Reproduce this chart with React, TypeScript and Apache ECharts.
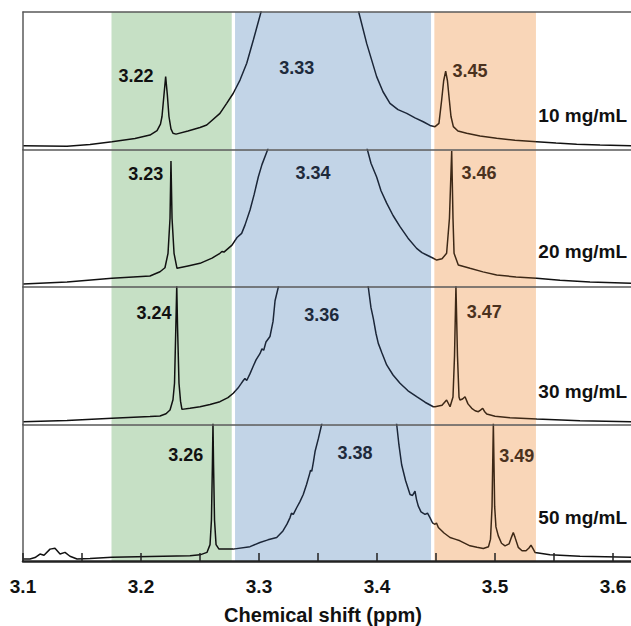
import React, { useEffect, useRef } from "react";
import * as echarts from "echarts";

// ---------- data (ppm, intensity as % of panel height) ----------
const concentrations = ["10 mg/mL", "20 mg/mL", "30 mg/mL", "50 mg/mL"];

const p1Ppm = [3.1, 3.1186, 3.1373, 3.1568, 3.1754, 3.1949, 3.2076, 3.2136, 3.2165, 3.2178, 3.2195, 3.2209, 3.2223, 3.2237, 3.2254, 3.2271, 3.2297, 3.2398, 3.25, 3.2557, 3.2669, 3.2726, 3.2782, 3.2839, 3.2896, 3.2952, 3.3017, 3.3076, 3.3432, 3.3788, 3.3845, 3.3913, 3.3997, 3.4051, 3.411, 3.4178, 3.4252, 3.4322, 3.4392, 3.4449, 3.4492, 3.4525, 3.4548, 3.4565, 3.4582, 3.4597, 3.4613, 3.4627, 3.4647, 3.4686, 3.476, 3.4873, 3.5014, 3.5169, 3.5353, 3.5517, 3.5692, 3.589, 3.6153];
const p1Int = [2.8, 2.6, 2.4, 3.6, 5.7, 8.0, 10.5, 13.7, 18.5, 24, 40, 53, 40, 24, 15, 11.8, 11.2, 13.5, 16, 17.8, 26.3, 33.6, 40.9, 50.5, 62.7, 79.6, 100, 130, 400, 130, 100, 77, 53, 42, 33.6, 29, 26.3, 23, 20.2, 17.5, 16.6, 19, 36, 50, 57, 50, 36, 24, 16.6, 13.5, 11.8, 9.8, 8.1, 6.8, 5.7, 4.7, 3.8, 3.2, 2.8];

const p2Ppm = [3.1, 3.1373, 3.1754, 3.2076, 3.2161, 3.2203, 3.2229, 3.2246, 3.2254, 3.2263, 3.228, 3.2305, 3.2398, 3.25, 3.2602, 3.2669, 3.2686, 3.2703, 3.2771, 3.2814, 3.2853, 3.2881, 3.2924, 3.2958, 3.2994, 3.3025, 3.3074, 3.311, 3.3496, 3.3873, 3.3918, 3.3949, 3.3997, 3.4034, 3.4082, 3.4136, 3.4195, 3.4263, 3.4336, 3.4381, 3.4421, 3.4477, 3.4506, 3.4551, 3.459, 3.4614, 3.4633, 3.4644, 3.4653, 3.4689, 3.4788, 3.4898, 3.5014, 3.5178, 3.5353, 3.5551, 3.5805, 3.6153];
const p2Int = [2.2, 3.6, 6.3, 8, 11.1, 14, 24.5, 50, 91.6, 50, 24.5, 13.6, 15.3, 17.2, 21, 24.5, 25.8, 25.4, 30.5, 36, 39, 45, 56, 67, 80, 89, 100, 120, 400, 120, 100, 90, 80, 70, 61, 52, 43.9, 35.5, 28.1, 25, 23.3, 20.9, 19.6, 20.5, 24.5, 50, 98.9, 50, 24.5, 16, 13.6, 11, 8.7, 7.3, 6.3, 4.9, 3.6, 2.7];

const p3Ppm = [3.1, 3.1373, 3.1754, 3.2076, 3.2161, 3.2212, 3.2246, 3.2271, 3.2284, 3.2295, 3.2303, 3.231, 3.2322, 3.2335, 3.2347, 3.2415, 3.25, 3.2585, 3.2669, 3.2737, 3.2782, 3.2822, 3.2847, 3.2867, 3.2881, 3.2896, 3.2924, 3.2949, 3.2975, 3.3008, 3.3025, 3.304, 3.3059, 3.3093, 3.3119, 3.3136, 3.3164, 3.3195, 3.3545, 3.389, 3.3926, 3.3949, 3.3969, 3.3992, 3.4011, 3.4042, 3.4082, 3.4136, 3.4195, 3.4263, 3.4336, 3.4407, 3.4477, 3.4492, 3.4551, 3.459, 3.4619, 3.4644, 3.4657, 3.4669, 3.4682, 3.4695, 3.4703, 3.4725, 3.4746, 3.4771, 3.4803, 3.4831, 3.4859, 3.4877, 3.4896, 3.4911, 3.493, 3.5, 3.5127, 3.5353, 3.572, 3.6153];
const p3Int = [2.0, 2.9, 4.5, 5.8, 6.2, 7.8, 10.5, 18, 30, 70, 101, 70, 30, 17, 11, 11.8, 12.9, 14.5, 16.6, 19.5, 22.7, 26.5, 29.5, 32, 33.5, 32, 37, 42, 47, 51.5, 55, 54, 60, 64, 75, 90, 100, 120, 400, 120, 100, 85, 77, 66, 59, 52, 43.3, 36, 30, 24.5, 20.2, 16.2, 12.9, 12.9, 14, 17.8, 12.9, 20, 50, 101, 50, 20, 17.8, 18.5, 20.2, 15, 11.8, 10, 9.3, 10.5, 11.8, 9.5, 7.6, 6, 4.9, 4.0, 2.8, 2.0];

const p4Ppm = [3.1, 3.1059, 3.1102, 3.1144, 3.1178, 3.1229, 3.1271, 3.1314, 3.1356, 3.1398, 3.1458, 3.1568, 3.1754, 3.2076, 3.2415, 3.25, 3.2559, 3.2585, 3.2597, 3.2605, 3.261, 3.2615, 3.2623, 3.2636, 3.2661, 3.278, 3.2924, 3.3008, 3.3076, 3.315, 3.3203, 3.3237, 3.3263, 3.3275, 3.3291, 3.3319, 3.3347, 3.3375, 3.3403, 3.3427, 3.3437, 3.3447, 3.3462, 3.3475, 3.3504, 3.3531, 3.3568, 3.3849, 3.4127, 3.4167, 3.4186, 3.4209, 3.4242, 3.428, 3.4301, 3.4322, 3.4335, 3.435, 3.4373, 3.4407, 3.4428, 3.4449, 3.447, 3.4492, 3.4504, 3.452, 3.4568, 3.4619, 3.4661, 3.4703, 3.4788, 3.4847, 3.4901, 3.4945, 3.4962, 3.4975, 3.4986, 3.4997, 3.5008, 3.5028, 3.5055, 3.5085, 3.5119, 3.514, 3.5155, 3.5169, 3.5197, 3.5229, 3.5263, 3.5288, 3.5305, 3.5322, 3.5339, 3.5466, 3.572, 3.6153];
const p4Int = [1.5, 1.5, 2.5, 5.1, 4.2, 8.7, 9.3, 5.1, 6.3, 3.5, 1.5, 1.8, 2.7, 3.3, 3.9, 4.5, 6.3, 12, 30, 70, 101, 70, 30, 12, 8.7, 8.7, 10.5, 13.6, 15.5, 17.2, 22, 27, 31.8, 35, 34.2, 39, 43.5, 48.7, 56, 63.3, 66.5, 65.7, 73, 80.2, 90, 100, 120, 400, 120, 100, 85, 70.5, 59, 48.7, 48, 51.1, 45, 40.2, 36, 34.2, 35, 31.8, 28, 26.9, 27.8, 24.5, 20.5, 17.2, 16, 14.8, 11.1, 10, 9.2, 10.5, 16, 40, 101, 40, 25, 18.4, 13, 11.1, 12.5, 17.5, 20.9, 17.5, 10, 7.5, 7.5, 9.5, 11.6, 9, 6.3, 4.6, 3.5, 2.7];

const spectraPpm = [p1Ppm, p2Ppm, p3Ppm, p4Ppm];
const spectraInt = [p1Int, p2Int, p3Int, p4Int];

// shaded chemical-shift windows (ppm)
const bandStart = [3.175, 3.2797, 3.4486];
const bandEnd = [3.2769, 3.4458, 3.5347];
const bandColor = ["#c6e0c5", "#c2d4e7", "#f9d6b8"];

// peak labels: [text, ppm, intensity] per panel, group 0=green, 1=blue, 2=orange
const peakLabels = [
  [["3.22", 3.1958, 53.5], ["3.33", 3.3319, 59.3], ["3.45", 3.4788, 57.1]],
  [["3.23", 3.204, 82.2], ["3.34", 3.3458, 82.9], ["3.46", 3.4864, 82.7]],
  [["3.24", 3.211, 81.1], ["3.36", 3.3531, 79.6], ["3.47", 3.4909, 82.0]],
  [["3.26", 3.2379, 77.3], ["3.38", 3.3814, 79.3], ["3.49", 3.5184, 76.6]],
];
const labelColor = ["#111111", "#1e2a3b", "#4b321e"];
const concLabelPpm = 3.5743;
const concLabelInt = [24.4, 25.7, 23.9, 31.8];

const xMin = 3.1;
const xMax = 3.1 + 608 / 1180;

const FONT = "'Liberation Sans', Arial, sans-serif";

export default function App() {
  const ref = useRef<HTMLDivElement>(null);
  useEffect(() => {
    if (!ref.current) return;
    const chart = echarts.init(ref.current, undefined, { renderer: "svg" });
    const panelTop = [12, 149.5, 287, 424.5];
    const panelH = 137.5;

    const grids = panelTop.map((t) => ({
      left: 23,
      right: 0,
      top: t,
      height: panelH,
      show: false,
    }));

    const xAxes: any[] = panelTop.map((_, i) => ({
      type: "value",
      gridIndex: i,
      position: "top",
      min: xMin,
      max: xMax,
      z: 5,
      axisLine: { show: true, onZero: false, lineStyle: { color: "#5a5a5a", width: 1.5 } },
      axisTick: { show: false },
      axisLabel: { show: false },
      splitLine: { show: false },
    }));
    xAxes.push({
      type: "value",
      gridIndex: 3,
      position: "bottom",
      min: xMin,
      max: xMax,
      interval: 0.05,
      z: 5,
      axisLine: { show: true, onZero: false, lineStyle: { color: "#222", width: 2.5 } },
      axisTick: { show: true, inside: true, length: 8, lineStyle: { color: "#222", width: 1.5 } },
      axisLabel: {
        show: true,
        margin: 16,
        fontFamily: FONT,
        fontWeight: "bold",
        fontSize: 19,
        color: "#111",
        showMaxLabel: false,
        formatter: (v: number) => {
          const t = Math.round(v * 100);
          return t % 10 === 0 ? v.toFixed(1) : "";
        },
      },
      splitLine: { show: false },
      name: "Chemical shift (ppm)",
      nameLocation: "middle",
      nameGap: 44,
      nameTextStyle: {
        fontFamily: FONT,
        fontWeight: "bold",
        fontSize: 20,
        color: "#111",
        padding: [0, 8, 0, 0],
      },
    });

    const yAxes = panelTop.map((_, i) => ({
      type: "value",
      gridIndex: i,
      min: 0,
      max: 100,
      z: 5,
      axisLine: { show: true, onZero: false, lineStyle: { color: "#5a5a5a", width: 1.5 } },
      axisTick: { show: false },
      axisLabel: { show: false },
      splitLine: { show: false },
    }));

    const series = spectraPpm.map((ppm, i) => ({
      type: "line",
      xAxisIndex: i,
      yAxisIndex: i,
      data: ppm.map((p, k) => [p, spectraInt[i][k]]),
      showSymbol: false,
      symbol: "none",
      clip: true,
      lineStyle: { width: 1.5 },
      z: 2,
      markArea: {
        silent: true,
        data: bandStart.map((s, b) => [
          { xAxis: s, itemStyle: { color: bandColor[b], opacity: 1 } },
          { xAxis: bandEnd[b] },
        ]),
      },
      markPoint: {
        silent: true,
        symbol: "circle",
        symbolSize: 1,
        itemStyle: { color: "rgba(0,0,0,0)" },
        data: [
          ...peakLabels[i].map((l: any, g: number) => ({
            name: l[0],
            coord: [l[1], l[2]],
            label: {
              show: true,
              position: "inside",
              formatter: l[0],
              fontFamily: FONT,
              fontWeight: "bold",
              fontSize: 18,
              color: labelColor[g],
            },
          })),
          {
            name: concentrations[i],
            coord: [concLabelPpm, concLabelInt[i]],
            label: {
              show: true,
              position: "inside",
              formatter: concentrations[i],
              fontFamily: FONT,
              fontWeight: "bold",
              fontSize: 19,
              color: "#111",
            },
          },
        ],
      },
    }));

    chart.setOption({
      animation: false,
      backgroundColor: "#ffffff",
      grid: grids,
      xAxis: xAxes,
      yAxis: yAxes,
      visualMap: {
        show: false,
        type: "piecewise",
        dimension: 0,
        seriesIndex: [0, 1, 2, 3],
        pieces: [
          { lt: bandStart[1], color: "#111111" },
          { gte: bandStart[1], lt: bandStart[2] - 0.0014, color: "#1b2638" },
          { gte: bandStart[2] - 0.0014, lt: bandEnd[2], color: "#3d2816" },
          { gte: bandEnd[2], color: "#111111" },
        ],
      },
      series,
    });
    return () => chart.dispose();
  }, []);
  return (
    <div
      ref={ref}
      style={{ position: "fixed", left: 0, top: 0, width: 631, height: 626, background: "#fff" }}
    />
  );
}
